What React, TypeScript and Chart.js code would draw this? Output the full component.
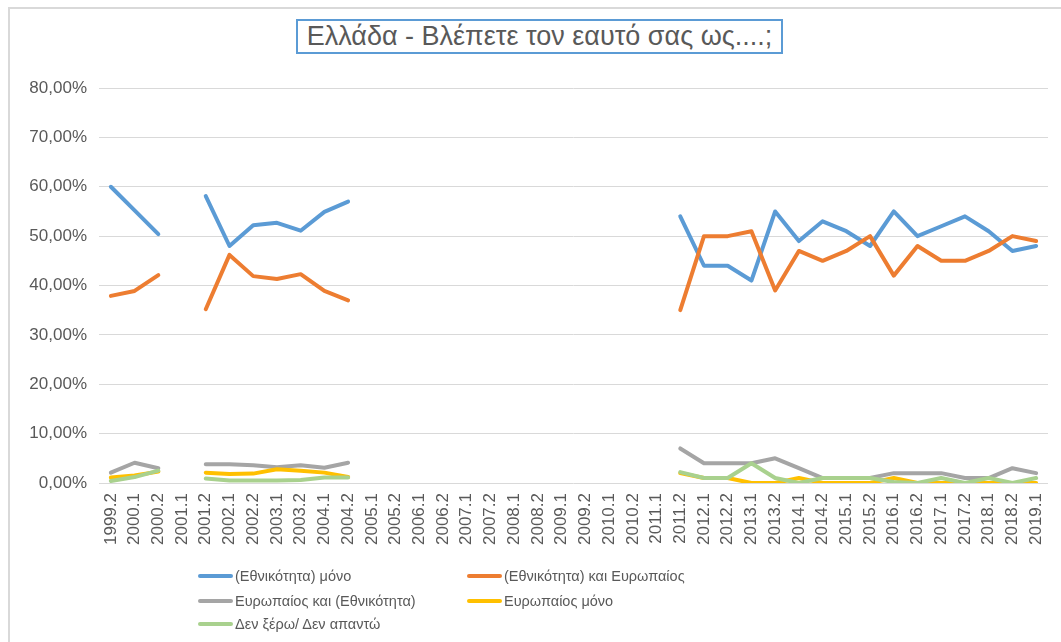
import React, { useEffect, useRef } from "react";
import { Chart, registerables } from "chart.js";

Chart.register(...registerables);

const categories = [
  "1999.2", "2000.1", "2000.2", "2001.1", "2001.2", "2002.1", "2002.2", "2003.1", "2003.2", "2004.1",
  "2004.2", "2005.1", "2005.2", "2006.1", "2006.2", "2007.1", "2007.2", "2008.1", "2008.2", "2009.1",
  "2009.2", "2010.1", "2010.2", "2011.1", "2011.2", "2012.1", "2012.2", "2013.1", "2013.2", "2014.1",
  "2014.2", "2015.1", "2015.2", "2016.1", "2016.2", "2017.1", "2017.2", "2018.1", "2018.2", "2019.1",
];

const N = null;
const nationalOnly = [
  60, 55.2, 50.4, N, 58.1, 48, 52.2, 52.7, 51.1, 54.9,
  57, N, N, N, N, N, N, N, N, N,
  N, N, N, N, 54, 44, 44, 41, 55, 49,
  53, 51, 48, 55, 50, 52, 54, 51, 47, 48,
];
const nationalEuropean = [
  37.9, 38.9, 42.1, N, 35.2, 46.2, 41.9, 41.3, 42.3, 38.9,
  37, N, N, N, N, N, N, N, N, N,
  N, N, N, N, 35, 50, 50, 51, 39, 47,
  45, 47, 50, 42, 48, 45, 45, 47, 50, 49,
];
const europeanNational = [
  2.1, 4.1, 3, N, 3.8, 3.8, 3.6, 3.2, 3.6, 3.1,
  4.1, N, N, N, N, N, N, N, N, N,
  N, N, N, N, 7, 4, 4, 4, 5, 3,
  1, 1, 1, 2, 2, 2, 1, 1, 3, 2,
];
const europeanOnly = [
  1.1, 1.5, 2.3, N, 2.1, 1.8, 1.9, 2.8, 2.5, 2.1,
  1.2, N, N, N, N, N, N, N, N, N,
  N, N, N, N, 2, 1, 1, 0, 0, 1,
  0, 0, 0, 1, 0, 0, 0, 0, 0, 0,
];
const dontKnow = [
  0.4, 1.2, 2.5, N, 0.9, 0.5, 0.5, 0.5, 0.6, 1.1,
  1.1, N, N, N, N, N, N, N, N, N,
  N, N, N, N, 2.2, 1, 1, 4, 1, 0,
  1, 1, 1, 0.2, 0, 1, 0, 1, 0, 1,
];

const seriesNames = [
  "(Εθνικότητα) μόνο",
  "(Εθνικότητα) και Ευρωπαίος",
  "Ευρωπαίος και (Εθνικότητα)",
  "Ευρωπαίος μόνο",
  "Δεν ξέρω/ Δεν απαντώ",
];
const seriesColors = ["#5B9BD5", "#ED7D31", "#A5A5A5", "#FFC000", "#A9D18E"];
const seriesData = [nationalOnly, nationalEuropean, europeanNational, europeanOnly, dontKnow];

const yMax = 80;
const yStep = 10;

const TEXT = "#595959";
const FONT = "'Liberation Sans', Arial, sans-serif";

export default function App() {
  const canvasRef = useRef<HTMLCanvasElement | null>(null);

  useEffect(() => {
    const canvas = canvasRef.current;
    if (!canvas) return;
    const chart = new Chart(canvas, {
      type: "line",
      data: {
        labels: categories,
        datasets: seriesData.map((d, i) => ({
          label: seriesNames[i],
          data: d,
          borderColor: seriesColors[i],
          backgroundColor: seriesColors[i],
          borderWidth: 4,
          pointRadius: 0,
          pointHoverRadius: 0,
          borderCapStyle: "round",
          borderJoinStyle: "round",
          tension: 0,
          spanGaps: false,
          order: seriesData.length - 1 - i,
        })),
      },
      options: {
        animation: false,
        responsive: false,
        maintainAspectRatio: false,
        layout: { padding: { top: 88, right: 13, left: 0, bottom: 0 } },
        plugins: {
          legend: { display: false },
          title: { display: false },
          tooltip: { enabled: false },
        },
        scales: {
          x: {
            offset: true,
            grid: { display: false, drawTicks: false },
            border: { display: false },
            ticks: {
              minRotation: 90,
              maxRotation: 90,
              autoSkip: false,
              padding: 10,
              color: TEXT,
              font: { family: FONT, size: 17 },
            },
            afterFit: (scale: any) => {
              scale.height = 159;
              scale.paddingLeft = 0;
              scale.paddingRight = 0;
            },
          },
          y: {
            min: 0,
            max: yMax,
            grid: { color: "#D9D9D9", lineWidth: 1, drawTicks: false },
            border: { display: false },
            ticks: {
              stepSize: yStep,
              padding: 12,
              color: TEXT,
              font: { family: FONT, size: 17 },
              callback: (v: any) => Number(v).toFixed(2).replace(".", ",") + "%",
            },
            afterFit: (scale: any) => {
              scale.width = 99;
            },
          },
        },
      },
    });
    return () => chart.destroy();
  }, []);

  const legendItems = [
    { i: 0, x: 198, y: 576 },
    { i: 1, x: 467, y: 576 },
    { i: 2, x: 198, y: 601 },
    { i: 3, x: 467, y: 601 },
    { i: 4, x: 198, y: 624 },
  ];

  return (
    <div
      style={{
        position: "fixed",
        left: 0,
        top: 0,
        width: 1061,
        height: 642,
        background: "#fff",
        overflow: "hidden",
        fontFamily: FONT,
      }}
    >
      <div
        style={{
          position: "absolute",
          left: 8,
          top: 7,
          width: 1100,
          height: 700,
          border: "2px solid #D9D9D9",
          boxSizing: "border-box",
        }}
      />
      <canvas
        ref={canvasRef}
        width={1061}
        height={642}
        style={{ position: "absolute", left: 0, top: 0, width: 1061, height: 642 }}
      />
      <div
        style={{
          position: "absolute",
          left: 296,
          top: 19,
          width: 487,
          height: 35,
          border: "2px solid #5B9BD5",
          boxSizing: "border-box",
          display: "flex",
          alignItems: "center",
          justifyContent: "center",
          color: TEXT,
          fontSize: 27,
          whiteSpace: "nowrap",
          background: "#fff",
        }}
      >
        Ελλάδα - Βλέπετε τον εαυτό σας ως....;
      </div>
      {legendItems.map((it) => (
        <div
          key={it.i}
          style={{
            position: "absolute",
            left: it.x,
            top: it.y - 10,
            height: 20,
            display: "flex",
            alignItems: "center",
            whiteSpace: "nowrap",
          }}
        >
          <span
            style={{
              display: "inline-block",
              width: 35,
              height: 4,
              borderRadius: 2,
              background: seriesColors[it.i],
              marginRight: 2,
            }}
          />
          <span style={{ color: TEXT, fontSize: 14.5 }}>{seriesNames[it.i]}</span>
        </div>
      ))}
    </div>
  );
}
